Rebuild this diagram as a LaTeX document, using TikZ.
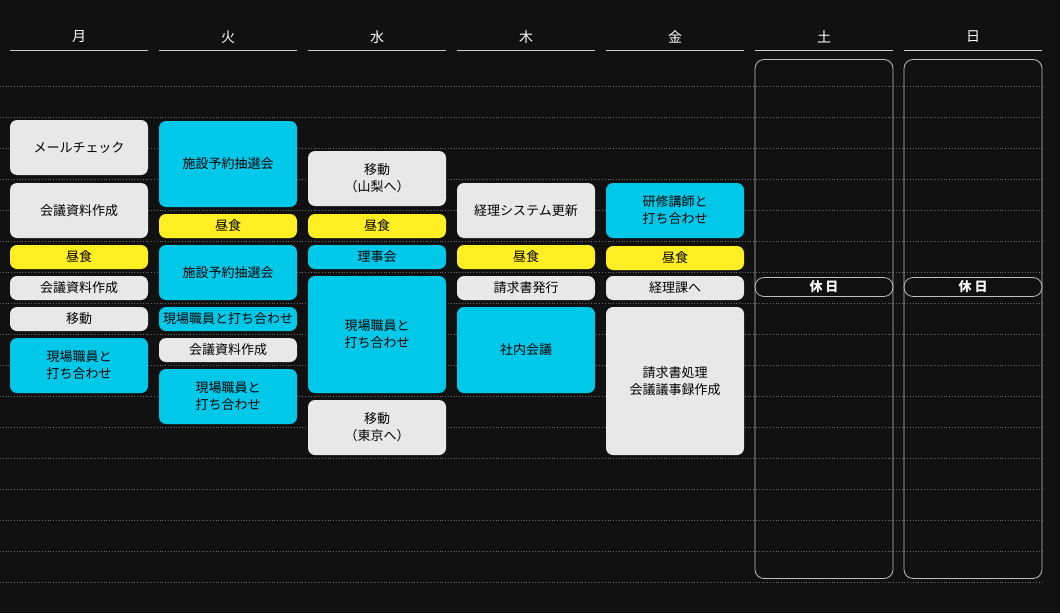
\documentclass[tikz,border=0pt]{standalone}
\usepackage{fontspec}
\setmainfont{Noto Sans CJK JP}
\definecolor{bg}{HTML}{111111}
\definecolor{evgray}{HTML}{E8E8E8}
\definecolor{evyel}{HTML}{FFEE22}
\definecolor{evcyan}{HTML}{00C8E8}
\definecolor{gridc}{HTML}{6A6A6A}
\tikzset{
  ev/.style={rounded corners=7pt, minimum width=138pt, inner sep=0pt, align=center, font=\fontsize{13}{17}\selectfont, text=black},
  hd/.style={text=white, font=\fontsize{14}{16}\selectfont},
  grid line/.style={gridc, dotted, line width=0.8pt},
  off/.style={draw=white!75!black, rounded corners=9pt, line width=0.8pt, minimum width=138pt, text=white, font=\fontsize{13}{16}\selectfont\bfseries},
}
% name, x-left, y-top, y-bottom, colour, text
\newcommand{\evbox}[6]{\node[ev, fill=#5, minimum height={#4-#3}] (#1) at ({#2+69},{(#3+#4)/2}) {#6};}
\begin{document}
\begin{tikzpicture}[x=1pt,y=-1pt]
\fill[bg] (0,0) rectangle (1060,613);
\useasboundingbox (0,0) rectangle (1060,613);
\foreach \yy in {86,117,148,179,210,241,272,303,334,365,396,427,458,489,520,551,582}
  \draw[grid line] (0,\yy) -- (1042,\yy);
\foreach \d/\xx/\n in {月/10/h1,火/159/h2,水/308/h3,木/457/h4,金/606/h5,土/755/h6,日/904/h7}{
  \node[hd] (\n) at ({\xx+69},37) {\d};
  \draw[white!80!black, line width=0.8pt] (\xx,50) -- ({\xx+138},50);
}
% Mon
\evbox{a1}{10}{120}{175}{evgray}{メールチェック}
\evbox{a2}{10}{183}{238}{evgray}{会議資料作成}
\evbox{a3}{10}{245}{269}{evyel}{昼食}
\evbox{a4}{10}{276}{300}{evgray}{会議資料作成}
\evbox{a5}{10}{307}{331}{evgray}{移動}
\evbox{a6}{10}{338}{393}{evcyan}{現場職員と\\打ち合わせ}
% Tue
\evbox{b1}{159}{121}{207}{evcyan}{施設予約抽選会}
\evbox{b2}{159}{214}{238}{evyel}{昼食}
\evbox{b3}{159}{245}{300}{evcyan}{施設予約抽選会}
\evbox{b4}{159}{307}{331}{evcyan}{現場職員と打ち合わせ}
\evbox{b5}{159}{338}{362}{evgray}{会議資料作成}
\evbox{b6}{159}{369}{424}{evcyan}{現場職員と\\打ち合わせ}
% Wed
\evbox{c1}{308}{151}{206}{evgray}{移動\\（山梨へ）}
\evbox{c2}{308}{214}{238}{evyel}{昼食}
\evbox{c3}{308}{245}{269}{evcyan}{理事会}
\evbox{c4}{308}{276}{393}{evcyan}{現場職員と\\打ち合わせ}
\evbox{c5}{308}{400}{455}{evgray}{移動\\（東京へ）}
% Thu
\evbox{d1}{457}{183}{238}{evgray}{経理システム更新}
\evbox{d2}{457}{245}{269}{evyel}{昼食}
\evbox{d3}{457}{276}{300}{evgray}{請求書発行}
\evbox{d4}{457}{307}{393}{evcyan}{社内会議}
% Fri
\evbox{e1}{606}{183}{238}{evcyan}{研修講師と\\打ち合わせ}
\evbox{e2}{606}{246}{270}{evyel}{昼食}
\evbox{e3}{606}{276}{300}{evgray}{経理課へ}
\evbox{e4}{606}{307}{455}{evgray}{請求書処理\\会議議事録作成}
% Sat / Sun
\node[off, minimum height=519pt] (f1) at (824,319) {};
\node[off, text=white] (f1t) at (824,287) {休 日};
\node[off, minimum height=519pt] (g1) at (973,319) {};
\node[off, text=white] (g1t) at (973,287) {休 日};
\end{tikzpicture}
\end{document}
